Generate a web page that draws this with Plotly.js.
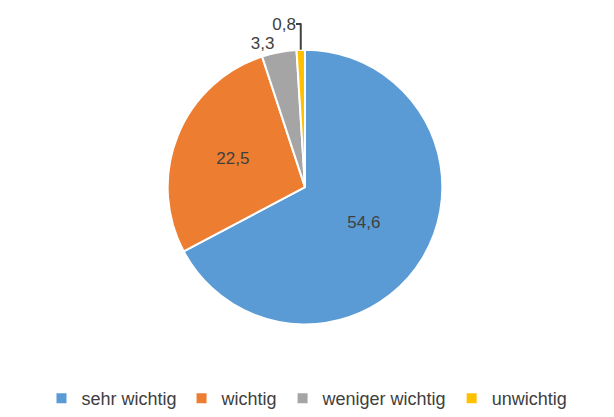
<!DOCTYPE html>
<html>
<head>
<meta charset="utf-8">
<script src="https://cdn.plot.ly/plotly-3.0.1.min.js"></script>
<style>html,body{margin:0;padding:0;background:#fff;}#chart{width:614px;height:417px;}</style>
</head>
<body>
<div id="chart"></div>
<script>
const categories = ["sehr wichtig", "wichtig", "weniger wichtig", "unwichtig"];
const values = [54.6, 22.5, 3.3, 0.8];
const colors = ["#5B9BD5", "#ED7D31", "#A5A5A5", "#FFC000"];
const textPositions = ["inside", "inside", "outside", "outside"];

const trace = {
  type: "pie",
  labels: categories,
  values: values,
  sort: false,
  direction: "clockwise",
  rotation: 0,
  domain: {x: [0.2720, 0.7215], y: [0.2182, 0.8801]},
  marker: {colors: colors, line: {color: "#ffffff", width: 2}},
  texttemplate: "%{value:.1f}",
  textposition: textPositions,
  insidetextorientation: "horizontal",
  textfont: {family: "Liberation Sans, Arial, sans-serif", size: 17, color: "#404040"},
  hoverinfo: "label+value",
  automargin: false
};

const layout = {
  width: 614,
  height: 417,
  margin: {l: 0, r: 0, t: 0, b: 0},
  separators: ",.",
  paper_bgcolor: "#ffffff",
  showlegend: true,
  legend: {
    orientation: "h",
    x: 0.5, xanchor: "center",
    y: -0.005, yanchor: "bottom",
    font: {family: "Liberation Sans, Arial, sans-serif", size: 18, color: "#404040"},
    itemsizing: "constant"
  }
};

Plotly.newPlot("chart", [trace], layout, {displayModeBar: false, staticPlot: true});
</script>
</body>
</html>
